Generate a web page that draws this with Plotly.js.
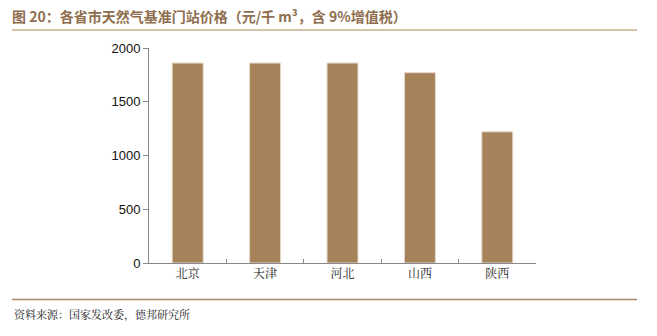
<!DOCTYPE html>
<html><head><meta charset="utf-8">
<script src="https://cdn.plot.ly/plotly-3.0.1.min.js"></script>
<style>html,body{margin:0;padding:0;background:#fff}#c{width:657px;height:336px}</style>
</head><body><div id="c"></div>
<script>
const categories = ['北京','天津','河北','山西','陕西'];
const prices = [1860, 1860, 1860, 1770, 1220];
const yTicks = [0, 500, 1000, 1500, 2000];
const titleText = '图 20：各省市天然气基准门站价格（元/千 m³，含 9%增值税）';
const sourceText = '资料来源：国家发改委，德邦研究所';

const L = 149, R = 536, T = 48, B = 263;
const W = R - L, H = B - T;
const px = x => (x - L) / W;
const py = y => (B - y) / H;

const trace = {
  type: 'bar', x: categories, y: prices,
  marker: {color: '#A6825A', line: {color: '#E6D8C8', width: 1}},
  hoverinfo: 'none'
};
const layout = {
  width: 657, height: 336,
  margin: {l: L, r: 657 - R, t: T, b: 336 - B},
  paper_bgcolor: '#fff', plot_bgcolor: '#fff',
  showlegend: false, bargap: 0.6,
  title: {text: '<b>' + titleText + '</b>', x: 12/657, xanchor: 'left', xref: 'container',
    y: 1 - 17/336, yanchor: 'middle', yref: 'container',
    font: {family: 'Noto Sans CJK SC', size: 14, color: '#8E6E4E'}},
  xaxis: {type: 'category', showline: true, linecolor: '#888', linewidth: 1,
    ticks: 'inside', tickson: 'boundaries', ticklen: 4, tickcolor: '#888',
    showgrid: false, zeroline: false,
    tickfont: {family: 'Noto Serif CJK SC, Noto Sans CJK SC', size: 12, color: '#222'}},
  yaxis: {range: [0, 2000], tickvals: yTicks, ticktext: yTicks.map(String),
    showline: true, linecolor: '#888', linewidth: 1,
    ticks: 'outside', ticklen: 5, tickcolor: '#888', showgrid: false, zeroline: false,
    tickfont: {family: 'Liberation Sans', size: 13, color: '#111'}},
  shapes: [
    {type: 'line', xref: 'paper', yref: 'paper', x0: px(12), x1: px(637), y0: py(30), y1: py(30),
      line: {color: '#C9AC8E', width: 1.5}},
    {type: 'line', xref: 'paper', yref: 'paper', x0: px(12), x1: px(637), y0: py(299.5), y1: py(299.5),
      line: {color: '#A98868', width: 1.5}}
  ],
  annotations: [
    {text: sourceText, xref: 'paper', yref: 'paper', x: px(12), y: py(314),
      xanchor: 'left', yanchor: 'middle', showarrow: false,
      font: {family: 'Noto Serif CJK SC, Noto Sans CJK SC', size: 11, color: '#222'}}
  ]
};
Plotly.newPlot('c', [trace], layout, {displayModeBar: false, staticPlot: true});
</script></body></html>
